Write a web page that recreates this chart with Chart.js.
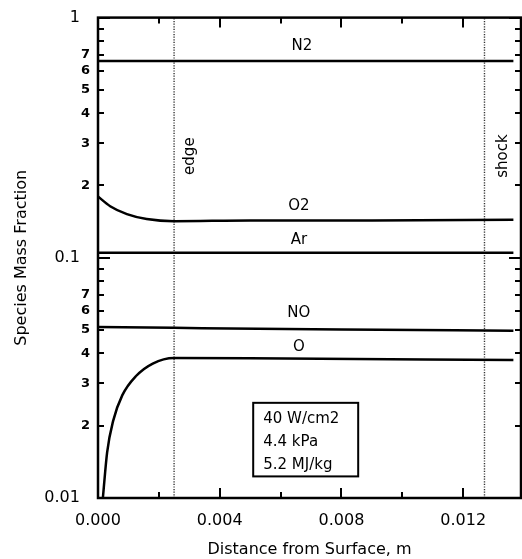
<!DOCTYPE html>
<html>
<head>
<meta charset="utf-8">
<script src="https://cdn.jsdelivr.net/npm/chart.js@4.4.0/dist/chart.umd.min.js"></script>
<style>
  html, body { margin: 0; padding: 0; background: #fff; }
  #chart { display: block; }
</style>
</head>
<body>
<canvas id="chart" width="522" height="559"></canvas>
<script>
"use strict";

// axis ticks
var xTickValues = [0, 0.002, 0.004, 0.006, 0.008, 0.010, 0.012];
var xTickLabels = ["0.000", "", "0.004", "", "0.008", "", "0.012"];
var yTickValues = [0.01, 0.02, 0.03, 0.04, 0.05, 0.06, 0.07, 0.08, 0.09,
                   0.1, 0.2, 0.3, 0.4, 0.5, 0.6, 0.7, 0.8, 0.9, 1];
var yTickLabels = ["0.01", "2", "3", "4", "5", "6", "7", "", "",
                   "0.1", "2", "3", "4", "5", "6", "7", "", "", "1"];

// species mass fraction vs distance from surface (m)
var n2X = [0, 0.01365];
var n2Y = [0.66, 0.66];
var o2X = [0, 0.0004, 0.00095, 0.0016, 0.0025, 0.005, 0.009, 0.01365];
var o2Y = [0.180, 0.164, 0.152, 0.145, 0.142, 0.143, 0.143, 0.144];
var arX = [0, 0.01365];
var arY = [0.105, 0.105];
var noX = [0, 0.0025, 0.008, 0.01365];
var noY = [0.0515, 0.0511, 0.0503, 0.0497];
var oX = [0.00016, 0.0003, 0.0005, 0.0008, 0.00125, 0.0018, 0.0025, 0.005, 0.01365];
var oY = [0.0100, 0.0155, 0.0210, 0.0268, 0.0322, 0.0363, 0.0383, 0.0382, 0.0375];

// edge / shock positions
var edgeX = 0.0025;
var shockX = 0.0127;

function pts(xs, ys) {
    return xs.map(function (x, i) { return {x: x, y: ys[i]}; });
}

function curve(data) {
    return {
        data: data,
        borderColor: "#000",
        borderWidth: 2.5,
        pointRadius: 0,
        fill: false,
        cubicInterpolationMode: "monotone"
    };
}

function marker(x) {
    return {
        data: pts([x, x], [0.01, 1]),
        borderColor: "#333",
        borderWidth: 1.4,
        borderDash: [1.2, 1.4],
        pointRadius: 0,
        fill: false
    };
}

// text placed at data coordinates
var labels = [
    {text: "N2", x: 0.0067, y: 0.76},
    {text: "O2", x: 0.0066, y: 0.164},
    {text: "Ar", x: 0.0066, y: 0.119},
    {text: "NO", x: 0.0066, y: 0.0588},
    {text: "O", x: 0.0066, y: 0.0424}
];
var boxLines = ["40 W/cm2", "4.4 kPa", "5.2 MJ/kg"];

var framePlugin = {
    id: "frame",
    afterDraw: function (chart) {
        var ctx = chart.ctx;
        var a = chart.chartArea;
        var xs = chart.scales.x, ys = chart.scales.y;
        ctx.save();
        ctx.strokeStyle = "#000";

        // frame
        ctx.lineWidth = 2.5;
        ctx.strokeRect(a.left, a.top, a.right - a.left, a.bottom - a.top);

        // inward ticks
        ctx.lineWidth = 2;
        ctx.beginPath();
        yTickValues.forEach(function (v) {
            var y = Math.round(ys.getPixelForValue(v));
            var len = (v === 1 || v === 0.1 || v === 0.01) ? 12 : 6;
            ctx.moveTo(a.left, y); ctx.lineTo(a.left + len, y);
            ctx.moveTo(a.right, y); ctx.lineTo(a.right - len, y);
        });
        xTickValues.forEach(function (v, i) {
            var x = Math.round(xs.getPixelForValue(v));
            var len = xTickLabels[i] ? 10 : 6;
            ctx.moveTo(x, a.bottom); ctx.lineTo(x, a.bottom - len);
            ctx.moveTo(x, a.top); ctx.lineTo(x, a.top + len);
        });
        ctx.stroke();

        // species labels
        ctx.fillStyle = "#000";
        ctx.textAlign = "center";
        ctx.textBaseline = "middle";
        ctx.font = "15px 'DejaVu Sans'";
        labels.forEach(function (l) {
            ctx.fillText(l.text, xs.getPixelForValue(l.x), ys.getPixelForValue(l.y));
        });

        // rotated edge / shock labels
        [["edge", 0.00302], ["shock", 0.0133]].forEach(function (t) {
            ctx.save();
            ctx.translate(xs.getPixelForValue(t[1]), ys.getPixelForValue(0.265));
            ctx.rotate(-Math.PI / 2);
            ctx.fillText(t[0], 0, 0);
            ctx.restore();
        });

        // conditions box
        var bl = xs.getPixelForValue(0.0051), br = xs.getPixelForValue(0.00855);
        var bt = ys.getPixelForValue(0.0249), bb = ys.getPixelForValue(0.0123);
        ctx.lineWidth = 2;
        ctx.strokeRect(bl, bt, br - bl, bb - bt);
        ctx.textAlign = "left";
        boxLines.forEach(function (s, i) {
            ctx.fillText(s, bl + 10, bt + 16 + i * 23);
        });
        ctx.restore();
    }
};

function isDecade(lab) {
    return lab === "1" || lab === "0.1" || lab === "0.01";
}

var ctx = document.getElementById("chart").getContext("2d");
var myChart = new Chart(ctx, {
    type: "line",
    data: {
        datasets: [
            curve(pts(n2X, n2Y)),
            curve(pts(o2X, o2Y)),
            curve(pts(arX, arY)),
            curve(pts(noX, noY)),
            curve(pts(oX, oY)),
            marker(edgeX),
            marker(shockX)
        ]
    },
    options: {
        responsive: false,
        animation: false,
        devicePixelRatio: 1,
        layout: {padding: {top: 13, right: 1, left: 0, bottom: 0}},
        plugins: {legend: {display: false}, tooltip: {enabled: false}},
        scales: {
            x: {
                type: "linear",
                min: 0,
                max: 0.0139,
                grid: {display: false, drawTicks: false},
                border: {display: false},
                afterBuildTicks: function (s) {
                    s.ticks = xTickValues.map(function (v) { return {value: v}; });
                },
                afterFit: function (s) { s.height = 61; },
                ticks: {
                    autoSkip: false,
                    maxRotation: 0,
                    padding: 13,
                    color: "#000",
                    font: {family: "DejaVu Sans", size: 16},
                    callback: function (v, i) { return xTickLabels[i]; }
                },
                title: {
                    display: true,
                    text: "Distance from Surface, m",
                    color: "#000",
                    font: {family: "DejaVu Sans", size: 16},
                    padding: {top: 0, bottom: 0}
                }
            },
            y: {
                type: "logarithmic",
                min: 0.01,
                max: 1,
                grid: {display: false, drawTicks: false},
                border: {display: false},
                afterBuildTicks: function (s) {
                    s.ticks = yTickValues.map(function (v) { return {value: v}; });
                },
                afterFit: function (s) { s.width = 98; },
                ticks: {
                    autoSkip: false,
                    padding: 8,
                    color: "#000",
                    font: function (c) {
                        var lab = yTickLabels[c.index] || "";
                        return isDecade(lab)
                            ? {family: "DejaVu Sans", size: 16}
                            : {family: "DejaVu Sans", size: 13, weight: "bold"};
                    },
                    // decade labels sit a little further from the axis
                    callback: function (v, i) {
                        var lab = yTickLabels[i];
                        return isDecade(lab) ? lab + "  " : lab;
                    }
                },
                title: {
                    display: true,
                    text: "Species Mass Fraction",
                    color: "#000",
                    font: {family: "DejaVu Sans", size: 16},
                    padding: {top: 12, bottom: 0}
                }
            }
        }
    },
    plugins: [framePlugin]
});
</script>
</body>
</html>
